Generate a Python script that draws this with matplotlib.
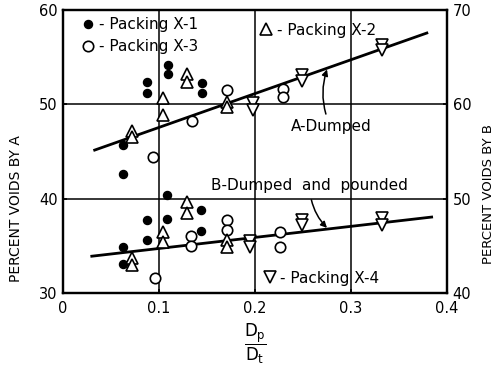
import matplotlib
matplotlib.use("Agg")
import matplotlib.pyplot as plt
from matplotlib.lines import Line2D

# values read on the left scale (A) and right scale (B)
x_a1 = [0.062, 0.062, 0.087, 0.087, 0.109, 0.109, 0.145, 0.145]
y_a1 = [42.6, 45.7, 51.2, 52.4, 53.2, 54.2, 51.2, 52.3]
x_a3 = [0.094, 0.134, 0.171, 0.229, 0.229]
y_a3 = [44.4, 48.2, 51.5, 51.6, 50.8]
x_a2 = [0.072, 0.072, 0.104, 0.104, 0.129, 0.129, 0.171, 0.171]
y_a2 = [47.2, 46.5, 50.7, 48.9, 53.2, 52.4, 50.3, 49.7]
x_a4 = [0.198, 0.198, 0.249, 0.249, 0.332, 0.332]
y_a4 = [50.1, 49.4, 53.1, 52.5, 56.3, 55.8]

x_b1 = [0.062, 0.062, 0.087, 0.087, 0.108, 0.108, 0.144, 0.144]
y_b1 = [43.1, 44.9, 45.6, 47.7, 47.8, 50.4, 46.6, 48.8]
x_b3 = [0.096, 0.133, 0.133, 0.171, 0.171, 0.226, 0.226]
y_b3 = [41.6, 46.0, 45.0, 47.7, 46.7, 46.5, 44.9]
x_b2 = [0.072, 0.072, 0.104, 0.104, 0.129, 0.129, 0.171, 0.171]
y_b2 = [43.7, 43.0, 46.5, 45.4, 49.6, 48.5, 45.6, 44.9]
x_b4 = [0.195, 0.195, 0.249, 0.249, 0.332, 0.332]
y_b4 = [45.5, 44.9, 47.7, 47.2, 48.0, 47.2]

# fitted lines
line_a_x = [0.033, 0.379]
line_a_y = [45.15, 57.56]
line_b_x = [0.030, 0.384]
line_b_y = [43.9, 48.05]

xticks = [0, 0.1, 0.2, 0.3, 0.4]
xtick_labels = ["0", "0.1", "0.2", "0.3", "0.4"]
yticks_a = [30, 40, 50, 60]
yticks_b = [40, 50, 60, 70]

plt.rcParams["font.family"] = "DejaVu Sans"
plt.rcParams["mathtext.default"] = "regular"

fig = plt.figure(figsize=(4.95, 3.72), dpi=100)
ax = fig.add_axes([63 / 495, 79 / 372, 384 / 495, 283 / 372])
ax2 = ax.twinx()

ax.set_xlim(0, 0.4)
ax.set_ylim(30, 60)
ax2.set_ylim(40, 70)
ax.set_xticks(xticks)
ax.set_xticklabels(xtick_labels)
ax.set_yticks(yticks_a)
ax2.set_yticks(yticks_b)
ax.grid(True, color="black", lw=1.1)

for a in (ax, ax2):
    a.tick_params(direction="in", length=3, width=1.2, labelsize=10.5, pad=4)
    for s in a.spines.values():
        s.set_linewidth(1.6)
ax.tick_params(axis="x", pad=6)

dot = dict(ls="none", marker="o", ms=5.8, color="black", zorder=4)
circ = dict(ls="none", marker="o", ms=7.5, mfc="white", mec="black", mew=1.2, zorder=4)
tri_up = dict(ls="none", marker="^", ms=9, mfc="white", mec="black", mew=1.2, zorder=4)
tri_dn = dict(ls="none", marker="v", ms=9, mfc="white", mec="black", mew=1.2, zorder=4)

ax.plot(line_a_x, line_a_y, color="black", lw=2, zorder=3)
ax.plot(x_a1, y_a1, **dot)
ax.plot(x_a3, y_a3, **circ)
ax.plot(x_a2, y_a2, **tri_up)
ax.plot(x_a4, y_a4, **tri_dn)

ax2.plot(line_b_x, line_b_y, color="black", lw=2, zorder=3)
ax2.plot(x_b1, y_b1, **dot)
ax2.plot(x_b3, y_b3, **circ)
ax2.plot(x_b2, y_b2, **tri_up)
ax2.plot(x_b4, y_b4, **tri_dn)

# curve labels with arrows to the lines
ax.annotate("A-Dumped", xy=(0.275, 53.7), xytext=(0.279, 47.6),
            ha="center", va="center", fontsize=11,
            arrowprops=dict(arrowstyle="-|>", color="black", lw=1.1,
                            mutation_scale=9, shrinkA=2, shrinkB=0,
                            connectionstyle="arc3,rad=-0.2"))
ax2.annotate("B-Dumped  and  pounded", xy=(0.275, 46.9), xytext=(0.257, 51.4),
             ha="center", va="center", fontsize=11,
             arrowprops=dict(arrowstyle="-|>", color="black", lw=1.1,
                             mutation_scale=9, shrinkA=3, shrinkB=0,
                             connectionstyle="arc3,rad=0.2"))

# legend keys
def key(style):
    st = dict(style)
    st.pop("zorder")
    return Line2D([], [], **st)

leg_kw = dict(frameon=False, fontsize=11, handlelength=1.0, handletextpad=0.2,
              borderpad=0, borderaxespad=0, labelspacing=0.45)
leg1 = ax2.legend([key(dot), key(circ)], ["- Packing X-1", "- Packing X-3"],
                  loc="upper left", bbox_to_anchor=(0.045, 0.975), **leg_kw)
ax2.add_artist(leg1)
leg2 = ax2.legend([key(tri_up)], ["- Packing X-2"], loc="center left",
                  bbox_to_anchor=(0.51, 0.929), **leg_kw)
ax2.add_artist(leg2)
ax2.legend([key(tri_dn)], ["- Packing X-4"], loc="center left",
           bbox_to_anchor=(0.518, 0.053), **leg_kw)

ax.set_ylabel("PERCENT VOIDS BY A", fontsize=10)
ax.yaxis.set_label_coords(-0.105, 0.3)
ax2.set_ylabel("PERCENT VOIDS BY B", fontsize=9.5)
ax2.yaxis.set_label_coords(1.09, 0.35)
ax.set_xlabel(r"$\dfrac{D_p}{D_t}$", fontsize=12, labelpad=4)

fig.savefig("out.png", dpi=100)
